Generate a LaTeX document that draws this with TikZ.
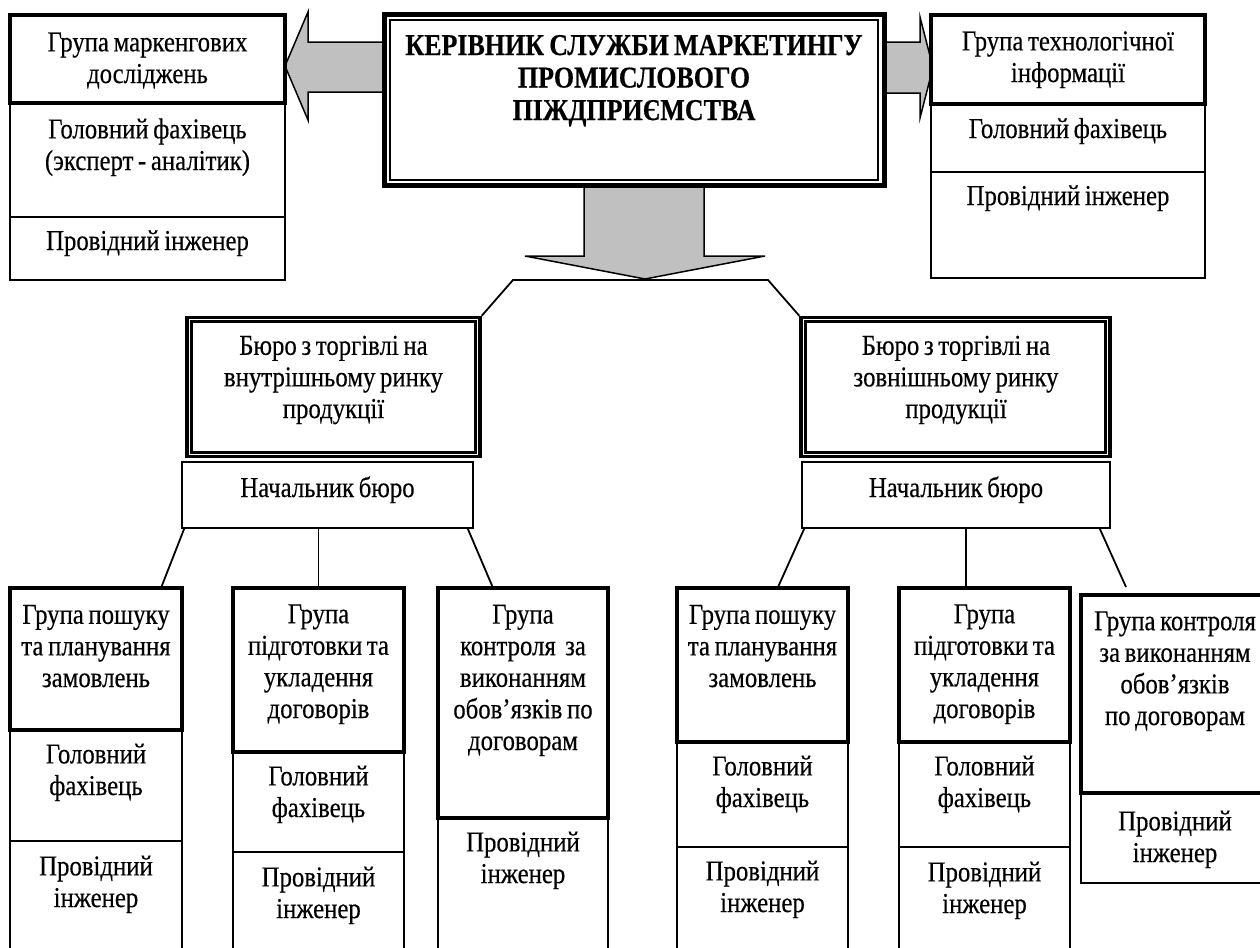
\documentclass[tikz,border=0pt]{standalone}
\usepackage{fontspec}
\setmainfont{Liberation Serif}[FakeStretch=0.86, FakeBold=0.35, WordSpace=0.75]
\newfontfamily\headfont{Liberation Serif}[FakeStretch=0.86, FakeBold=0.5, WordSpace=0.8]
\usetikzlibrary{fit,calc}
\definecolor{arrowfill}{RGB}{192,192,192}
\begin{document}
\begin{tikzpicture}[x=0.5pt,y=-0.5pt,
  cellbox/.style={draw, line width=0.85pt, fill=white, inner sep=0pt},
  headbox/.style={draw, line width=1.65pt, fill=white, inner sep=0pt},
  outerframe/.style={draw, line width=1.7pt, fill=white, inner sep=0pt},
  innerframe/.style={draw, line width=1.3pt, inner sep=0pt},
  % multi-line texts are placed by the baseline of their last line
  txt/.style={font=\fontsize{14.4}{15.8}\selectfont, align=center, inner sep=0pt, anchor=base},
  blockarrow/.style={draw, line width=0.75pt, fill=arrowfill, line join=miter},
  link/.style={line width=0.9pt}]
\useasboundingbox (0,0) rectangle (1260,948);
\clip (0,0) rectangle (1260,948);

% block arrows leaving the head of the service
\path[blockarrow] (386,42) -- (308,42) -- (308,12) -- (285,66) -- (308,120) -- (308,92) -- (386,92) -- cycle;
\path[blockarrow] (883,42) -- (920,42) -- (920,17) -- (933,67.5) -- (920,118) -- (920,93) -- (883,93) -- cycle;
\path[blockarrow] (584,184) -- (584,256) -- (525,256) -- (645,279) -- (765,256) -- (704,256) -- (704,184) -- cycle;
\coordinate (fork) at (645,280);

% head of the marketing service
\node[draw, line width=2.5pt, fill=white, inner sep=0pt, fit={(384.5,14.5)(884.5,185.5)}] (chief) {};
\node[draw, line width=0.7pt, inner sep=0pt, fit={(390,20)(878,180)}] (chiefin) {};
\node[txt, font=\headfont\bfseries\fontsize{15.1}{16.25}\selectfont] at (634,120)
  {КЕРІВНИК СЛУЖБИ МАРКЕТИНГУ\\ПРОМИСЛОВОГО\\ПІЖДПРИЄМСТВА};

% marketing research group
\node[cellbox, fit={(10,217)(285,280)}] (lgc) {};
\node[cellbox, fit={(10,103)(285,217)}] (lgb) {};
\node[headbox, fit={(10,15)(285,103)}] (lga) {};
\node[txt] at (147.5,83) {Група маркенгових\\досліджень};
\node[txt] at (147.5,170) {Головний фахівець\\(эксперт - аналітик)};
\node[txt] at (147.5,250) {Провідний інженер};

% technological information group
\node[cellbox, fit={(931,172)(1205,278)}] (rgc) {};
\node[cellbox, fit={(931,104)(1205,172)}] (rgb) {};
\node[headbox, fit={(931,15)(1205,104)}] (rga) {};
\node[txt] at (1068,82) {Група технологічної\\інформації};
\node[txt] at (1068,138) {Головний фахівець};
\node[txt] at (1068,205) {Провідний інженер};

% trade bureaus
\node[outerframe, fit={(187,317.5)(480,456.5)}] (bl) {};
\node[innerframe, fit={(191.5,321.5)(475.5,452.5)}] (blin) {};
\node[txt] at (333.5,418) {Бюро з торгівлі на\\внутрішньому ринку\\продукції};
\node[outerframe, fit={(801,317.5)(1110,456.5)}] (br) {};
\node[innerframe, fit={(805.5,321.5)(1105.5,452.5)}] (brin) {};
\node[txt] at (956,418) {Бюро з торгівлі на\\зовнішньому ринку\\продукції};

\draw[link] (bl.north east) -- (fork -| 513,0) -- (fork -| 768,0) -- (br.north west);

% bureau chiefs
\node[cellbox, fit={(182,462)(473,528)}] (hl) {};
\node[txt] at (327.5,497) {Начальник бюро};
\node[cellbox, fit={(802,462)(1110,528)}] (hr) {};
\node[txt] at (956,497) {Начальник бюро};

% groups of the domestic bureau
\node[cellbox, fit={(10,841)(182,975)}] (c1c) {};
\node[cellbox, fit={(10,730)(182,841)}] (c1b) {};
\node[headbox, fit={(10,588)(182,730)}] (c1a) {};
\node[txt] at (96,687) {Група пошуку\\та планування\\замовлень};
\node[txt] at (96,795) {Головний\\фахівець};
\node[txt] at (96,907) {Провідний\\інженер};

\node[cellbox, fit={(233,852)(404,975)}] (c2c) {};
\node[cellbox, fit={(233,752)(404,852)}] (c2b) {};
\node[headbox, fit={(233,588)(404,752)}] (c2a) {};
\node[txt] at (318.5,718) {Група\\підготовки та\\укладення\\договорів};
\node[txt] at (318.5,817) {Головний\\фахівець};
\node[txt] at (318.5,918) {Провідний\\інженер};

\node[cellbox, fit={(438,818)(608,975)}] (c3b) {};
\node[headbox, fit={(438,588)(608,818)}] (c3a) {};
\node[txt] at (523,750) {Група\\контроля\ \ за\\виконанням\\обов’язків по\\договорам};
\node[txt] at (523,883) {Провідний\\інженер};

% groups of the foreign bureau
\node[cellbox, fit={(677,847)(848,975)}] (c4c) {};
\node[cellbox, fit={(677,742)(848,847)}] (c4b) {};
\node[headbox, fit={(677,588)(848,742)}] (c4a) {};
\node[txt] at (762.5,687) {Група пошуку\\та планування\\замовлень};
\node[txt] at (762.5,807) {Головний\\фахівець};
\node[txt] at (762.5,912) {Провідний\\інженер};

\node[cellbox, fit={(899,847)(1070,975)}] (c5c) {};
\node[cellbox, fit={(899,742)(1070,847)}] (c5b) {};
\node[headbox, fit={(899,588)(1070,742)}] (c5a) {};
\node[txt] at (984.5,718) {Група\\підготовки та\\укладення\\договорів};
\node[txt] at (984.5,807) {Головний\\фахівець};
\node[txt] at (984.5,913) {Провідний\\інженер};

\node[cellbox, fit={(1081,793)(1272,883)}] (c6b) {};
\node[headbox, fit={(1081,595)(1272,793)}] (c6a) {};
\node[txt] at (1175,725) {Група контроля\\за виконанням\\обов’язків\\по договорам};
\node[txt] at (1175,862) {Провідний\\інженер};

% links from the bureau chiefs to their groups
\draw[link] ($(hl.south west)+(3,0)$) -- ($(c1a.north east)+(-22,0)$);
\draw[link] (hl.south -| c2a.north) -- (c2a.north);
\draw[link] ($(hl.south east)+(-6,0)$) -- ($(c3a.north west)+(56,0)$);
\draw[link] ($(hr.south west)+(3,0)$) -- ($(c4a.north west)+(103,0)$);
\draw[link] ($(hr.south west)+(165,0)$) coordinate (hrmid) -- (hrmid |- c5a.north);
\coordinate (c6link) at (1126,587);
\draw[link] ($(hr.south east)+(-11,0)$) -- (c6link);
\end{tikzpicture}
\end{document}
